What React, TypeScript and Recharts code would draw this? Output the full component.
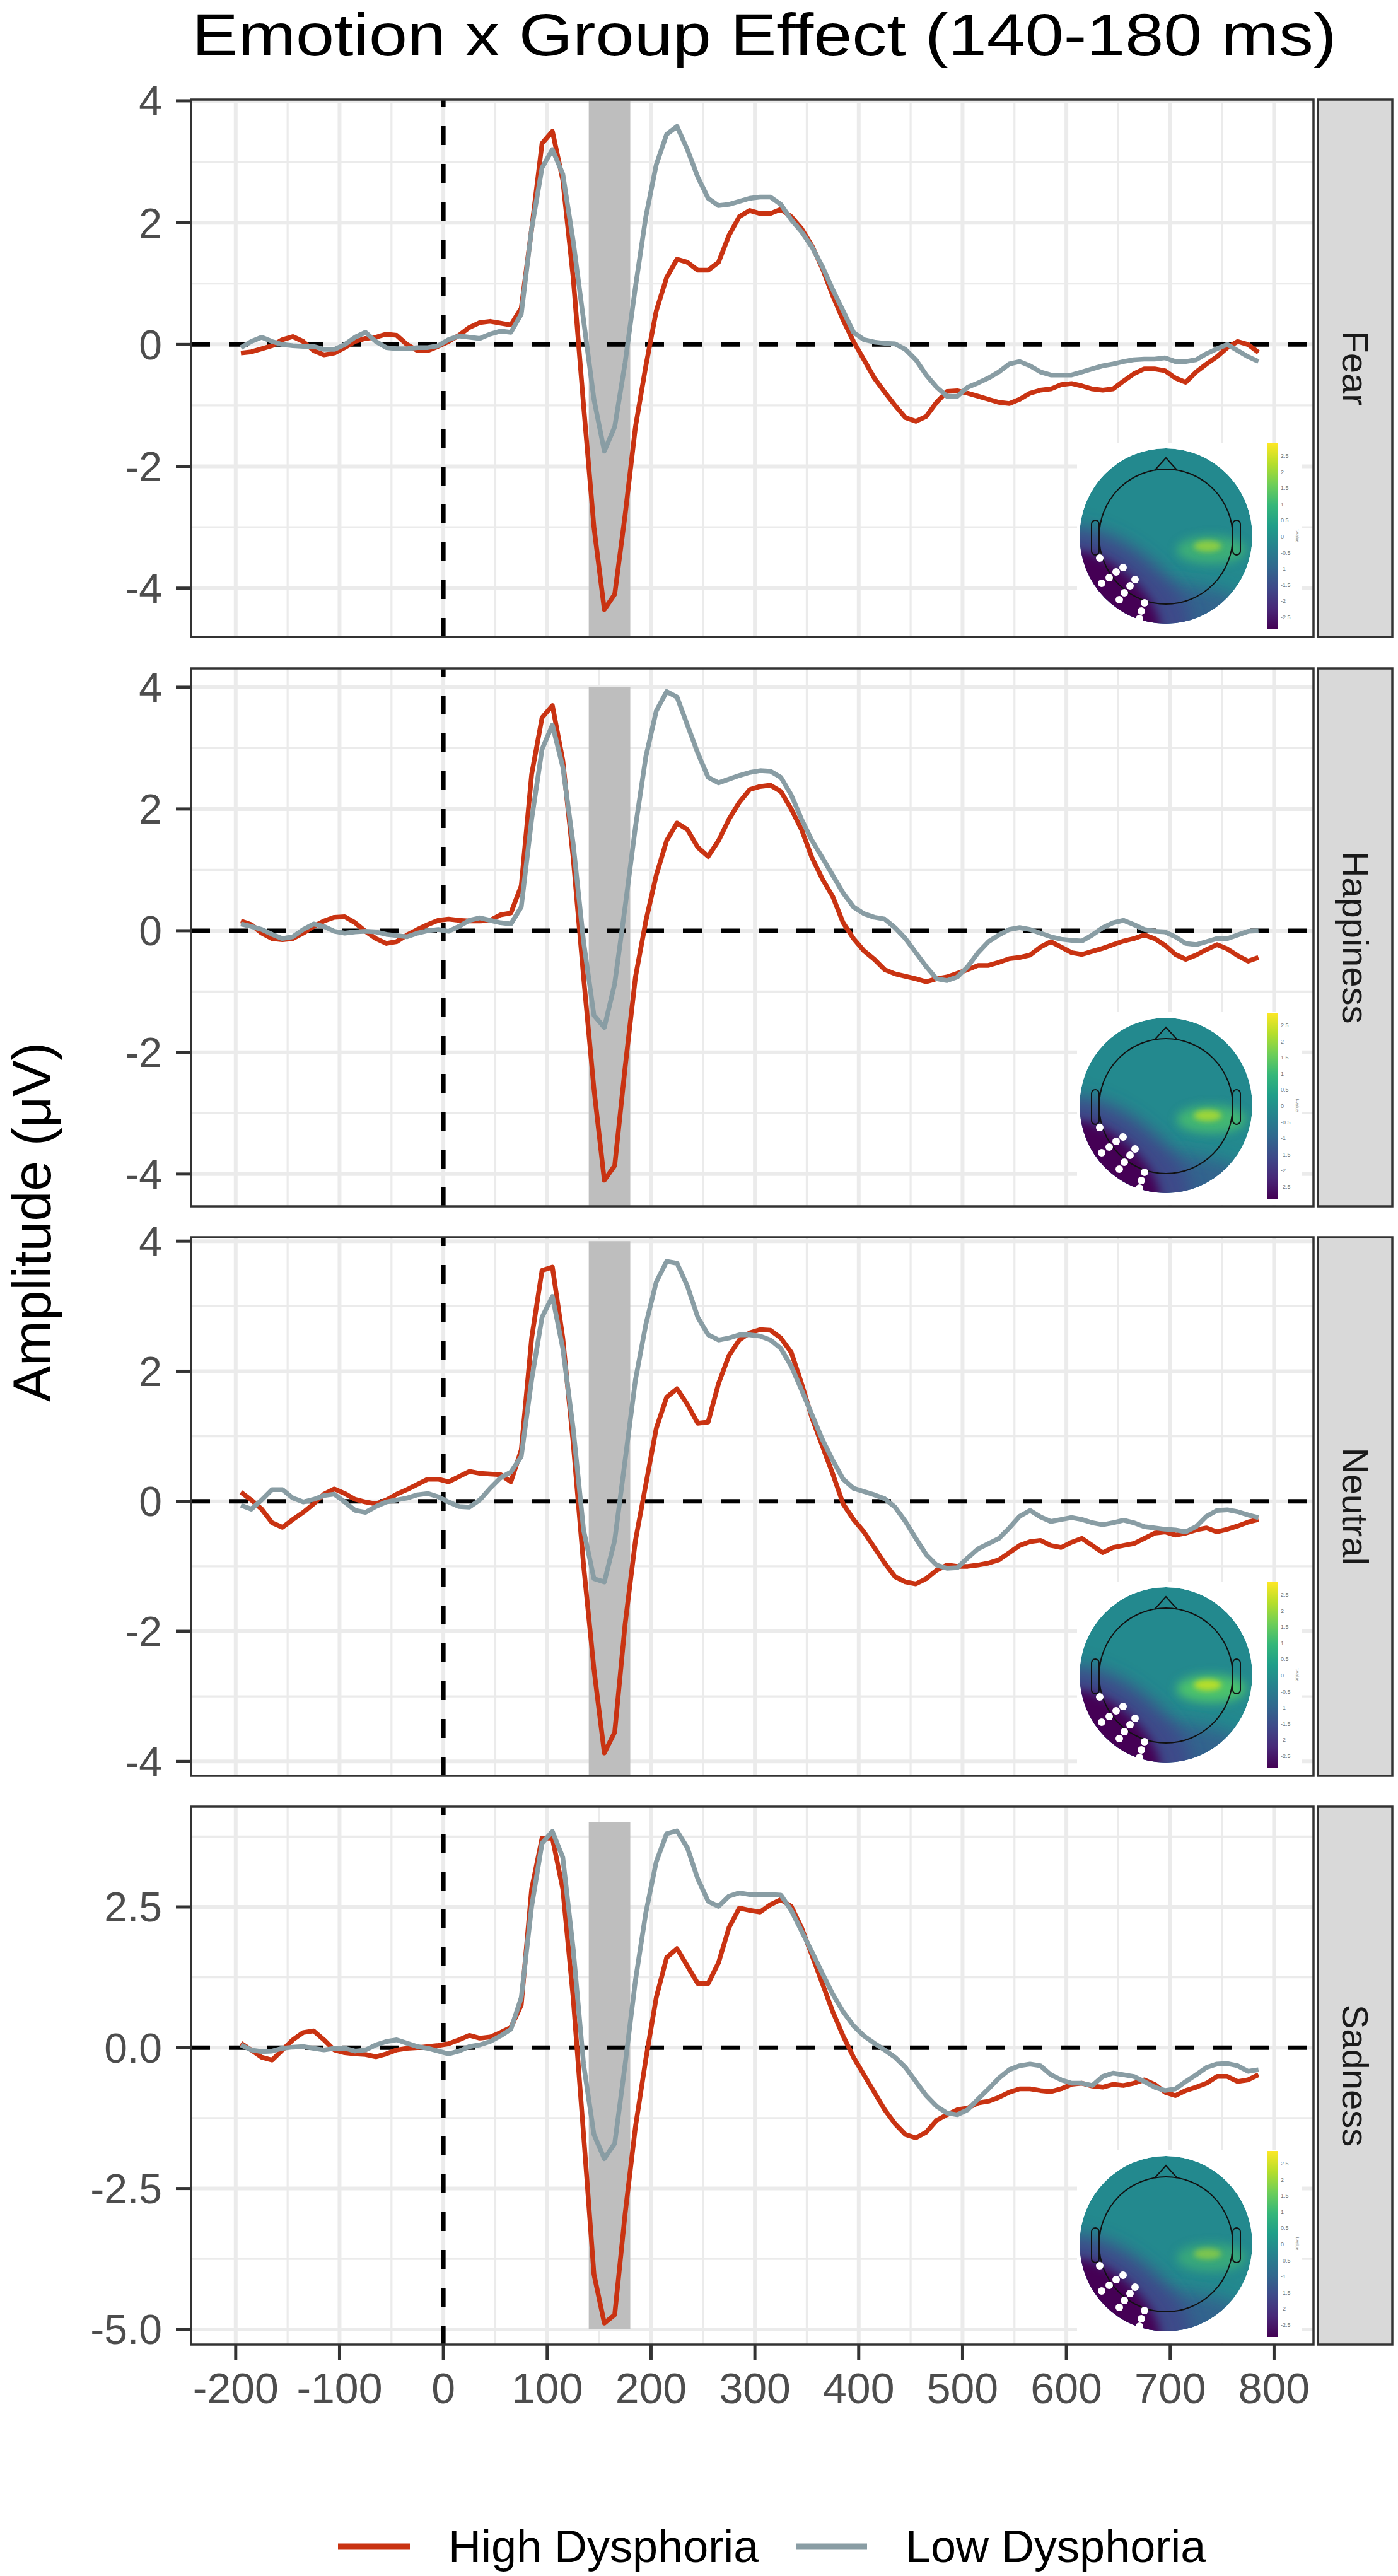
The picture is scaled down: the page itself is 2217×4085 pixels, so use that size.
import { CartesianGrid, Line, LineChart, ReferenceArea, ReferenceLine, XAxis, YAxis } from "recharts";

// time points (ms)
const times = [
  -195, -185, -175, -165, -155, -145, -135, -125, -115, -105, -95, -85, -75, -65, -55, -45, -35, -25, -15, -5,
  5, 15, 25, 35, 45, 55, 65, 75, 85, 95, 105, 115, 125, 135, 145, 155, 165, 175, 185, 195,
  205, 215, 225, 235, 245, 255, 265, 275, 285, 295, 305, 315, 325, 335, 345, 355, 365, 375, 385, 395,
  405, 415, 425, 435, 445, 455, 465, 475, 485, 495, 505, 515, 525, 535, 545, 555, 565, 575, 585, 595,
  605, 615, 625, 635, 645, 655, 665, 675, 685, 695, 705, 715, 725, 735, 745, 755, 765, 775, 785,
];

const fearHigh = [
  -0.14, -0.12, -0.07, -0.02, 0.08, 0.13, 0.05, -0.1, -0.17, -0.14, -0.05, 0.05, 0.1, 0.12, 0.17, 0.15, 0.0, -0.1, -0.1, -0.03,
  0.05, 0.15, 0.28, 0.36, 0.38, 0.35, 0.32, 0.6, 1.9, 3.3, 3.5, 2.7, 1.1, -1.0, -3.0, -4.35, -4.1, -2.8, -1.35, -0.35,
  0.55, 1.1, 1.4, 1.35, 1.22, 1.22, 1.35, 1.79, 2.1, 2.2, 2.15, 2.15, 2.22, 2.1, 1.9, 1.62, 1.25, 0.8, 0.4, 0.05,
  -0.25, -0.55, -0.78, -1.0, -1.2, -1.26, -1.18, -0.95, -0.77, -0.76, -0.8, -0.85, -0.9, -0.95, -0.97, -0.9, -0.8, -0.75, -0.73, -0.66,
  -0.64, -0.68, -0.73, -0.75, -0.73, -0.6, -0.48, -0.4, -0.4, -0.43, -0.55, -0.62, -0.45, -0.32, -0.2, -0.05, 0.05, 0.0, -0.13,
];
const fearLow = [
  -0.05, 0.05, 0.12, 0.05, 0.0, -0.02, -0.03, -0.03, -0.08, -0.08, 0.0, 0.12, 0.2, 0.05, -0.05, -0.07, -0.07, -0.05, -0.05, -0.02,
  0.08, 0.14, 0.12, 0.1, 0.17, 0.22, 0.2, 0.5, 1.9, 2.9, 3.2, 2.8, 1.7, 0.4, -0.9, -1.75, -1.35, -0.3, 0.95, 2.1,
  2.95, 3.45, 3.58, 3.2, 2.75, 2.4, 2.28, 2.3, 2.35, 2.4, 2.42, 2.42, 2.3, 2.05, 1.85, 1.6, 1.28, 0.9, 0.55, 0.2,
  0.08, 0.04, 0.02, 0.01, -0.08, -0.25, -0.5, -0.7, -0.85, -0.85, -0.7, -0.63, -0.55, -0.45, -0.32, -0.28, -0.35, -0.45, -0.5, -0.5,
  -0.5, -0.45, -0.4, -0.35, -0.32, -0.28, -0.25, -0.24, -0.24, -0.22, -0.28, -0.28, -0.25, -0.15, -0.07, 0.0, -0.1, -0.2, -0.28,
];

const happinessHigh = [
  0.16, 0.1, -0.04, -0.13, -0.15, -0.13, -0.04, 0.07, 0.16, 0.22, 0.23, 0.13, -0.01, -0.13, -0.21, -0.18, -0.07, 0.02, 0.1, 0.17,
  0.19, 0.17, 0.16, 0.16, 0.17, 0.26, 0.29, 0.74, 2.57, 3.5, 3.7, 2.8, 1.2, -0.76, -2.6, -4.1, -3.86, -2.25, -0.76, 0.16,
  0.91, 1.48, 1.77, 1.66, 1.37, 1.22, 1.48, 1.83, 2.11, 2.32, 2.37, 2.39, 2.29, 2.0, 1.66, 1.2, 0.85, 0.56, 0.13, -0.13,
  -0.33, -0.47, -0.64, -0.71, -0.75, -0.79, -0.84, -0.79, -0.76, -0.7, -0.64, -0.57, -0.57, -0.52, -0.46, -0.44, -0.4, -0.27, -0.18, -0.27,
  -0.36, -0.39, -0.34, -0.29, -0.23, -0.17, -0.13, -0.07, -0.13, -0.24, -0.39, -0.47, -0.4, -0.31, -0.23, -0.3, -0.41, -0.5, -0.44,
];
const happinessLow = [
  0.11, 0.07, 0.02, -0.06, -0.13, -0.1, 0.02, 0.11, 0.07, -0.01, -0.04, -0.02, -0.01, -0.02, -0.06, -0.08, -0.1, -0.04, 0.0, 0.02,
  -0.01, 0.07, 0.17, 0.21, 0.17, 0.13, 0.11, 0.39, 1.83, 2.98, 3.38, 2.69, 1.43, -0.18, -1.39, -1.59, -0.87, 0.39, 1.71, 2.86,
  3.61, 3.93, 3.84, 3.38, 2.92, 2.52, 2.43, 2.49, 2.55, 2.6, 2.63, 2.62, 2.52, 2.23, 1.83, 1.48, 1.2, 0.91, 0.62, 0.39,
  0.28, 0.22, 0.19, 0.05, -0.13, -0.36, -0.59, -0.79, -0.82, -0.76, -0.59, -0.36, -0.18, -0.07, 0.02, 0.05, 0.02, -0.04, -0.1, -0.14,
  -0.16, -0.17, -0.07, 0.05, 0.13, 0.17, 0.1, 0.02, -0.01, -0.02, -0.1, -0.21, -0.23, -0.18, -0.13, -0.13, -0.07, -0.01, 0.0,
];

const neutralHigh = [
  0.14, 0.02, -0.12, -0.33, -0.4, -0.28, -0.17, -0.04, 0.11, 0.19, 0.12, 0.03, -0.01, -0.04, 0.02, 0.11, 0.18, 0.26, 0.34, 0.34,
  0.3, 0.38, 0.46, 0.43, 0.42, 0.41, 0.3, 0.79, 2.51, 3.55, 3.6, 2.51, 0.9, -0.98, -2.58, -3.87, -3.55, -1.89, -0.6, 0.26,
  1.12, 1.6, 1.73, 1.49, 1.2, 1.22, 1.81, 2.24, 2.48, 2.59, 2.64, 2.63, 2.51, 2.29, 1.81, 1.28, 0.85, 0.42, -0.04, -0.28,
  -0.47, -0.71, -0.95, -1.16, -1.24, -1.27, -1.19, -1.06, -0.98, -1.0, -1.0, -0.98, -0.95, -0.9, -0.79, -0.68, -0.62, -0.6, -0.68, -0.71,
  -0.63, -0.57, -0.68, -0.79, -0.71, -0.68, -0.65, -0.57, -0.49, -0.47, -0.52, -0.49, -0.44, -0.41, -0.47, -0.43, -0.38, -0.32, -0.28,
];
const neutralLow = [
  -0.06, -0.12, 0.02, 0.18, 0.18, 0.05, -0.01, 0.03, 0.09, 0.11, -0.01, -0.14, -0.17, -0.08, -0.01, 0.02, 0.05, 0.1, 0.12, 0.07,
  -0.01, -0.08, -0.09, 0.02, 0.2, 0.36, 0.45, 0.69, 1.87, 2.83, 3.15, 2.35, 1.12, -0.44, -1.19, -1.24, -0.6, 0.63, 1.87, 2.72,
  3.37, 3.69, 3.66, 3.31, 2.83, 2.56, 2.48, 2.51, 2.56, 2.56, 2.54, 2.48, 2.35, 2.08, 1.71, 1.33, 0.95, 0.63, 0.34, 0.2,
  0.15, 0.1, 0.04, -0.09, -0.31, -0.57, -0.82, -0.98, -1.03, -1.02, -0.87, -0.73, -0.65, -0.57, -0.41, -0.23, -0.14, -0.24, -0.31, -0.28,
  -0.25, -0.28, -0.33, -0.36, -0.33, -0.29, -0.33, -0.39, -0.41, -0.43, -0.44, -0.47, -0.39, -0.23, -0.14, -0.13, -0.16, -0.21, -0.25,
];

const sadnessHigh = [
  0.08, -0.04, -0.17, -0.22, -0.04, 0.14, 0.27, 0.3, 0.14, -0.04, -0.09, -0.11, -0.12, -0.16, -0.11, -0.04, -0.01, 0.0, 0.02, 0.04,
  0.07, 0.14, 0.22, 0.17, 0.19, 0.27, 0.36, 0.76, 2.82, 3.72, 3.72, 2.82, 0.89, -1.54, -4.02, -4.89, -4.74, -2.95, -1.4, -0.2,
  0.89, 1.6, 1.76, 1.45, 1.14, 1.14, 1.51, 2.13, 2.48, 2.44, 2.41, 2.54, 2.63, 2.51, 2.13, 1.64, 1.14, 0.64, 0.21, -0.17,
  -0.48, -0.79, -1.1, -1.35, -1.54, -1.6, -1.5, -1.29, -1.19, -1.1, -1.07, -0.98, -0.95, -0.88, -0.79, -0.73, -0.73, -0.76, -0.78, -0.73,
  -0.65, -0.63, -0.68, -0.7, -0.65, -0.67, -0.63, -0.57, -0.65, -0.79, -0.85, -0.76, -0.7, -0.63, -0.51, -0.51, -0.6, -0.57, -0.48,
];
const sadnessLow = [
  0.05, -0.04, -0.07, -0.06, -0.01, 0.01, 0.02, -0.01, -0.04, -0.01, -0.01, -0.06, -0.04, 0.05, 0.11, 0.14, 0.08, 0.02, -0.01, -0.06,
  -0.11, -0.06, 0.02, 0.05, 0.11, 0.21, 0.33, 0.89, 2.51, 3.63, 3.84, 3.38, 1.76, -0.29, -1.54, -1.97, -1.7, -0.3, 1.2, 2.4,
  3.3, 3.8, 3.85, 3.55, 3.0, 2.6, 2.51, 2.69, 2.75, 2.72, 2.72, 2.72, 2.71, 2.44, 2.07, 1.7, 1.32, 0.95, 0.64, 0.39,
  0.21, 0.08, -0.04, -0.17, -0.35, -0.6, -0.85, -1.04, -1.16, -1.19, -1.1, -0.91, -0.73, -0.54, -0.39, -0.32, -0.29, -0.32, -0.48, -0.57,
  -0.63, -0.63, -0.67, -0.51, -0.45, -0.48, -0.51, -0.6, -0.7, -0.76, -0.73, -0.6, -0.48, -0.35, -0.29, -0.28, -0.32, -0.42, -0.39,
];

const emotions = ["Fear", "Happiness", "Neutral", "Sadness"];
const groups = ["High Dysphoria", "Low Dysphoria"];
const groupColors = ["#C93312", "#899DA4"];

const xTicks = [-200, -100, 0, 100, 200, 300, 400, 500, 600, 700, 800];
const xMinorTicks = [-150, -50, 50, 150, 250, 350, 450, 550, 650, 750];
const yTicksWhole = [-4, -2, 0, 2, 4];
const yMinorWhole = [-3, -1, 1, 3];
const yTicksHalf = [-5, -2.5, 0, 2.5];
const yMinorHalf = [-3.75, -1.25, 1.25, 3.75];
const effectWindow = [140, 180];

const FONT = '"Liberation Sans", Arial, Helvetica, sans-serif';

const facets = [
  { name: emotions[0], high: fearHigh, low: fearLow, ticks: yTicksWhole, minor: yMinorWhole, domain: [-4.8, 4.02], top: 158, h: 852, glow: 0.65 },
  { name: emotions[1], high: happinessHigh, low: happinessLow, ticks: yTicksWhole, minor: yMinorWhole, domain: [-4.53, 4.31], top: 1060, h: 853, glow: 0.8 },
  { name: emotions[2], high: neutralHigh, low: neutralLow, ticks: yTicksWhole, minor: yMinorWhole, domain: [-4.22, 4.06], top: 1962, h: 854, glow: 1 },
  { name: emotions[3], high: sadnessHigh, low: sadnessLow, ticks: yTicksHalf, minor: yMinorHalf, domain: [-5.27, 4.28], top: 2865, h: 853, glow: 0.55 },
];

const PLOT_LEFT = 303;
const PLOT_RIGHT = 2083;
const X_AXIS_H = 130;
const PAD = 45;

function Facet({ f, last }: { f: (typeof facets)[number]; last: boolean }) {
  const data = times.map((t, i) => ({ t, high: f.high[i], low: f.low[i] }));
  const height = f.h + PAD + (last ? X_AXIS_H : PAD);
  const half = f.ticks.includes(2.5);
  return (
    <div style={{ position: "absolute", left: 0, top: f.top - PAD, width: PLOT_RIGHT + 7, height }}>
      <LineChart width={PLOT_RIGHT + 7} height={height} data={data} margin={{ top: PAD, right: 7, bottom: last ? 0 : PAD, left: 0 }}>
        <CartesianGrid stroke="#EBEBEB" strokeWidth={3.2} horizontalValues={f.minor} verticalValues={xMinorTicks} />
        <CartesianGrid stroke="#EBEBEB" strokeWidth={6} horizontalValues={f.ticks} verticalValues={xTicks} />
        <XAxis
          dataKey="t"
          type="number"
          domain={[-243, 838]}
          ticks={xTicks}
          interval={0}
          allowDataOverflow
          hide={!last}
          height={X_AXIS_H}
          axisLine={false}
          tickSize={25}
          tickMargin={20}
          tickLine={{ stroke: "#333333", strokeWidth: 5 }}
          tick={{ fill: "#4D4D4D", fontSize: 68, fontFamily: FONT }}
        />
        <YAxis
          type="number"
          domain={f.domain}
          ticks={f.ticks}
          interval={0}
          allowDataOverflow
          width={PLOT_LEFT}
          axisLine={false}
          tickSize={24}
          tickMargin={22}
          tickLine={{ stroke: "#333333", strokeWidth: 5 }}
          tick={{ fill: "#4D4D4D", fontSize: 66, fontFamily: FONT }}
          tickFormatter={(v: number) => (half ? v.toFixed(1) : String(v))}
        />
        <ReferenceArea x1={effectWindow[0]} x2={effectWindow[1]} y1={-5} y2={4} fill="#BEBEBE" fillOpacity={1} stroke="none" ifOverflow="hidden" />
        <ReferenceLine x={0} stroke="#000000" strokeWidth={7} strokeDasharray="30 30" />
        <ReferenceLine y={0} stroke="#000000" strokeWidth={7} strokeDasharray="30 30" />
        <Line dataKey="high" name={groups[0]} stroke={groupColors[0]} strokeWidth={7.5} dot={false} activeDot={false} type="linear" strokeLinejoin="round" isAnimationActive={false} />
        <Line dataKey="low" name={groups[1]} stroke={groupColors[1]} strokeWidth={7.5} dot={false} activeDot={false} type="linear" strokeLinejoin="round" isAnimationActive={false} />
      </LineChart>
    </div>
  );
}

const viridis = ["#FDE725", "#B5DE2B", "#6ECE58", "#35B779", "#1F9E89", "#26828E", "#31688E", "#3E4989", "#482878", "#440154"];
const barLabels = ["2.5", "2", "1.5", "1", "0.5", "0", "-0.5", "-1", "-1.5", "-2", "-2.5"];
const dots = [
  [-105, 35], [-68, 50], [-79, 57], [-90, 66], [-102, 75], [-49, 69], [-57, 79], [-66, 90], [-74, 101], [-34, 106], [-39, 119], [-42, 131],
];

function Topo({ id, bottom, glow }: { id: string; bottom: number; glow: number }) {
  const cx = 1849;
  const cy = bottom - 160;
  return (
    <g>
      <rect x={1708} y={bottom - 308} width={356} height={306} fill="#FFFFFF" />
      <clipPath id={`clip-${id}`}>
        <ellipse cx={cx} cy={cy} rx={137} ry={139} />
      </clipPath>
      <g clipPath={`url(#clip-${id})`}>
        <ellipse cx={cx} cy={cy} rx={137} ry={139} fill="#23898E" />
        <ellipse cx={cx - 10} cy={cy + 135} rx={160} ry={60} fill="#33638D" filter="url(#blur14)" />
        <ellipse cx={cx - 75} cy={cy + 85} rx={135} ry={66} fill="#3E4989" transform={`rotate(38 ${cx - 75} ${cy + 85})`} filter="url(#blur14)" />
        <ellipse cx={cx - 90} cy={cy + 100} rx={100} ry={48} fill="#440154" transform={`rotate(42 ${cx - 90} ${cy + 100})`} filter="url(#blur8)" />
        <ellipse cx={cx + 72} cy={cy + 22} rx={55} ry={22} fill="#4CC26C" opacity={glow} filter="url(#blur8)" />
        <ellipse cx={cx + 66} cy={cy + 16} rx={22} ry={9} fill="#B5DE2B" opacity={glow} filter="url(#blur4)" />
      </g>
      <ellipse cx={cx} cy={cy + 1} rx={106} ry={107} fill="none" stroke="#111111" strokeWidth={2} />
      <path d={`M ${cx - 18} ${cy - 104} L ${cx} ${cy - 124} L ${cx + 18} ${cy - 104}`} fill="none" stroke="#111111" strokeWidth={2} />
      <rect x={cx - 118} y={cy - 25} width={12} height={55} rx={6} fill="none" stroke="#111111" strokeWidth={2} />
      <rect x={cx + 106} y={cy - 25} width={12} height={55} rx={6} fill="none" stroke="#111111" strokeWidth={2} />
      {dots.map(([dx, dy], i) => (
        <circle key={i} cx={cx + dx} cy={cy + dy} r={6} fill="#FFFFFF" />
      ))}
      <rect x={cx + 160} y={cy - 147} width={18} height={295} fill="url(#viridis)" />
      {barLabels.map((l, i) => (
        <text key={l} x={cx + 182} y={cy - 127 + i * 25.6} fontSize={9} fill="#777777" dominantBaseline="central" fontFamily={FONT}>
          {l}
        </text>
      ))}
      <text x={cx + 206} y={cy} fontSize={7} fill="#888888" textAnchor="middle" transform={`rotate(90 ${cx + 206} ${cy})`} fontFamily={FONT}>
        t-value
      </text>
    </g>
  );
}

export default function App() {
  return (
    <div style={{ position: "relative", width: 2217, height: 4085, background: "#FFFFFF", fontFamily: FONT, overflow: "hidden" }}>
      <style>{`body{margin:0}`}</style>
      {facets.map((f, i) => (
        <Facet key={f.name} f={f} last={i === facets.length - 1} />
      ))}
      <svg width={2217} height={4085} style={{ position: "absolute", left: 0, top: 0, pointerEvents: "none" }}>
        <defs>
          <linearGradient id="viridis" x1="0" y1="0" x2="0" y2="1">
            {viridis.map((c, i) => (
              <stop key={c} offset={i / (viridis.length - 1)} stopColor={c} />
            ))}
          </linearGradient>
          <filter id="blur14" x="-50%" y="-50%" width="200%" height="200%">
            <feGaussianBlur stdDeviation={14} />
          </filter>
          <filter id="blur8" x="-50%" y="-50%" width="200%" height="200%">
            <feGaussianBlur stdDeviation={8} />
          </filter>
          <filter id="blur4" x="-50%" y="-50%" width="200%" height="200%">
            <feGaussianBlur stdDeviation={4} />
          </filter>
        </defs>
        <text x={1212} y={88} fontSize={94} textAnchor="middle" fill="#000000" textLength={1815} lengthAdjust="spacingAndGlyphs" fontFamily={FONT}>
          Emotion x Group Effect (140-180 ms)
        </text>
        <text transform="translate(80 1938) rotate(-90)" fontSize={86} textAnchor="middle" fill="#000000" fontFamily={FONT}>
          Amplitude (μV)
        </text>
        {facets.map((f) => (
          <g key={f.name}>
            <Topo id={f.name} bottom={f.top + f.h} glow={f.glow} />
            <rect x={PLOT_LEFT} y={f.top} width={PLOT_RIGHT - PLOT_LEFT} height={f.h} fill="none" stroke="#333333" strokeWidth={3.5} />
            <rect x={2090} y={f.top} width={118} height={f.h} fill="#D9D9D9" stroke="#333333" strokeWidth={3.5} />
            <text
              x={2149}
              y={f.top + f.h / 2}
              fontSize={58}
              fill="#1A1A1A"
              textAnchor="middle"
              dominantBaseline="central"
              transform={`rotate(90 2149 ${f.top + f.h / 2})`}
              fontFamily={FONT}
            >
              {f.name}
            </text>
          </g>
        ))}
        <line x1={536} x2={650} y1={4038} y2={4038} stroke={groupColors[0]} strokeWidth={9} />
        <text x={711} y={4063} fontSize={72} fill="#000000" fontFamily={FONT}>
          {groups[0]}
        </text>
        <line x1={1262} x2={1375} y1={4038} y2={4038} stroke={groupColors[1]} strokeWidth={9} />
        <text x={1436} y={4063} fontSize={72} fill="#000000" fontFamily={FONT}>
          {groups[1]}
        </text>
      </svg>
    </div>
  );
}
